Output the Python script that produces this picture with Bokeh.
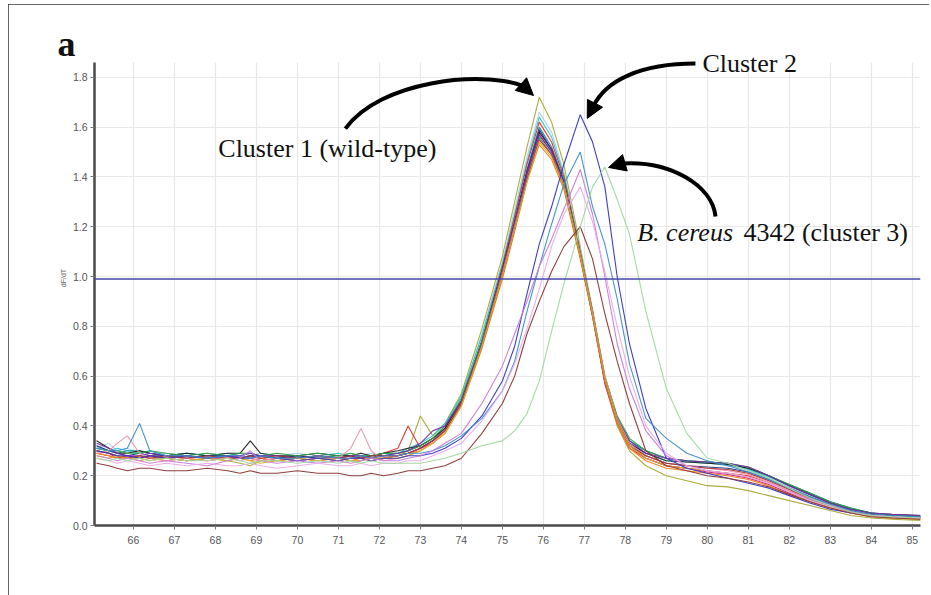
from bokeh.plotting import figure
from bokeh.models import (Range1d, FixedTicker, PrintfTickFormatter, Span, Label,
                          Arrow, NormalHead)
from bokeh.embed import file_html
from bokeh.resources import INLINE

# ---------------- data ----------------
temps = [65.1, 65.4, 65.6, 65.85, 66.15, 66.4, 66.8, 67.3, 67.8, 68.3, 68.6, 68.85, 69.1,
         69.5, 70.0, 70.5, 71.0, 71.3, 71.55, 71.8, 72.1, 72.45, 72.7, 73.0, 73.3, 73.6,
         74.0, 74.5, 75.0, 75.3, 75.6, 75.9, 76.2, 76.5, 76.9, 77.2, 77.5, 77.8, 78.1,
         78.5, 79.0, 79.5, 80.0, 80.5, 81.0, 81.5, 82.0, 82.5, 83.0, 83.5, 84.0, 84.5, 85.2]

x_ticks = list(range(66, 86))
y_ticks = [0.0, 0.2, 0.4, 0.6, 0.8, 1.0, 1.2, 1.4, 1.6, 1.8]
threshold = 0.99

# cluster 1 (wild-type)
c1_olive = [0.30,0.29,0.28,0.27,0.28,0.27,0.27,0.26,0.27,0.26,0.25,0.24,0.26,0.27,0.27,0.26,0.27,0.26,0.26,0.27,0.27,0.28,0.30,
            0.44,0.36,0.41,0.53,0.79,1.08,1.30,1.52,1.72,
            1.62,1.45,1.12,0.86,0.57,0.40,0.30,0.24,
            0.20,0.18,0.16,0.155,0.14,0.12,0.10,0.08,0.06,0.04,0.03,0.025,0.02]
c1_lightblue = [0.31,0.33,0.30,0.31,0.29,0.28,0.29,0.28,0.29,0.28,0.29,0.28,0.29,0.28,0.29,0.28,0.28,0.29,0.28,0.29,0.28,0.29,0.30,
                0.32,0.35,0.40,0.51,0.77,1.06,1.27,1.48,1.66,
                1.58,1.42,1.11,0.87,0.60,0.44,0.34,0.30,
                0.27,0.26,0.25,0.24,0.225,0.19,0.155,0.12,0.09,0.065,0.05,0.04,0.035]
c1_cyan = [0.32,0.30,0.31,0.30,0.29,0.30,0.28,0.29,0.28,0.29,0.28,0.29,0.28,0.28,0.27,0.28,0.29,0.28,0.28,0.28,0.29,0.29,0.31,
           0.33,0.36,0.41,0.52,0.76,1.05,1.25,1.46,1.64,
           1.56,1.41,1.10,0.86,0.59,0.43,0.33,0.29,
           0.26,0.255,0.25,0.245,0.225,0.195,0.16,0.125,0.09,0.065,0.05,0.04,0.035]
c1_red = [0.29,0.28,0.27,0.28,0.27,0.28,0.27,0.28,0.27,0.28,0.27,0.28,0.27,0.26,0.27,0.28,0.27,0.27,0.28,0.27,0.29,0.31,0.40,
          0.31,0.34,0.39,0.50,0.74,1.04,1.24,1.45,1.62,
          1.54,1.40,1.10,0.85,0.58,0.42,0.32,0.27,
          0.24,0.23,0.22,0.21,0.20,0.17,0.135,0.105,0.08,0.055,0.04,0.035,0.03]
c1_teal = [0.31,0.30,0.29,0.30,0.30,0.29,0.28,0.29,0.28,0.28,0.27,0.28,0.28,0.27,0.28,0.27,0.28,0.28,0.27,0.28,0.28,0.29,0.30,
           0.32,0.35,0.39,0.50,0.73,1.02,1.22,1.43,1.60,
           1.52,1.39,1.09,0.85,0.59,0.43,0.34,0.30,
           0.27,0.26,0.255,0.25,0.23,0.20,0.165,0.13,0.095,0.07,0.05,0.04,0.035]
c1_black = [0.34,0.31,0.29,0.29,0.30,0.29,0.28,0.29,0.28,0.29,0.29,0.34,0.29,0.28,0.28,0.29,0.28,0.28,0.29,0.28,0.29,0.30,0.31,
            0.32,0.35,0.39,0.50,0.74,1.03,1.22,1.42,1.58,
            1.51,1.38,1.09,0.86,0.59,0.43,0.33,0.29,
            0.26,0.255,0.25,0.245,0.23,0.20,0.16,0.125,0.09,0.065,0.05,0.045,0.04]
c1_navy = [0.32,0.30,0.29,0.28,0.29,0.28,0.28,0.27,0.28,0.28,0.27,0.28,0.28,0.27,0.28,0.27,0.27,0.28,0.27,0.28,0.28,0.28,0.29,
           0.31,0.34,0.38,0.49,0.72,1.01,1.21,1.42,1.59,
           1.51,1.37,1.08,0.84,0.58,0.42,0.33,0.28,
           0.25,0.24,0.235,0.23,0.215,0.185,0.15,0.115,0.085,0.06,0.045,0.04,0.035]
c1_magenta = [0.30,0.29,0.27,0.28,0.27,0.28,0.27,0.26,0.27,0.27,0.28,0.27,0.26,0.27,0.26,0.27,0.26,0.27,0.27,0.26,0.27,0.28,0.29,
              0.31,0.33,0.38,0.49,0.73,1.02,1.21,1.41,1.57,
              1.50,1.37,1.08,0.84,0.57,0.41,0.31,0.27,
              0.24,0.23,0.215,0.205,0.19,0.165,0.13,0.10,0.075,0.05,0.04,0.035,0.03]
c1_green = [0.31,0.30,0.30,0.29,0.29,0.30,0.29,0.28,0.29,0.28,0.29,0.29,0.28,0.29,0.28,0.29,0.28,0.29,0.28,0.28,0.29,0.29,0.30,
            0.32,0.35,0.40,0.51,0.74,1.02,1.21,1.40,1.56,
            1.49,1.37,1.09,0.86,0.60,0.44,0.35,0.30,
            0.27,0.26,0.255,0.25,0.235,0.20,0.165,0.13,0.095,0.07,0.05,0.04,0.035]
c1_purple = [0.33,0.31,0.29,0.28,0.28,0.29,0.28,0.28,0.27,0.28,0.28,0.29,0.28,0.28,0.27,0.28,0.27,0.28,0.28,0.27,0.28,0.29,0.30,
             0.33,0.38,0.40,0.50,0.73,1.02,1.21,1.41,1.57,
             1.50,1.37,1.08,0.85,0.59,0.43,0.34,0.29,
             0.27,0.26,0.255,0.25,0.235,0.20,0.16,0.125,0.09,0.065,0.05,0.045,0.04]
c1_orange = [0.29,0.28,0.27,0.27,0.26,0.27,0.26,0.27,0.26,0.27,0.27,0.26,0.27,0.26,0.27,0.26,0.27,0.26,0.27,0.27,0.27,0.28,0.29,
             0.30,0.33,0.37,0.48,0.71,0.99,1.18,1.38,1.53,
             1.47,1.35,1.07,0.84,0.58,0.41,0.31,0.26,
             0.23,0.22,0.21,0.20,0.185,0.16,0.125,0.095,0.07,0.05,0.035,0.03,0.025]
c1_salmon = [0.29,0.30,0.33,0.36,0.29,0.27,0.26,0.27,0.26,0.27,0.26,0.27,0.26,0.27,0.26,0.27,0.27,0.31,0.39,0.30,0.26,0.27,0.28,
             0.30,0.33,0.38,0.49,0.72,1.01,1.20,1.39,1.55,
             1.49,1.37,1.09,0.86,0.60,0.43,0.33,0.28,
             0.25,0.24,0.23,0.22,0.205,0.175,0.14,0.11,0.08,0.055,0.04,0.035,0.03]
c1_darkred = [0.30,0.29,0.28,0.27,0.28,0.27,0.28,0.27,0.28,0.27,0.27,0.28,0.27,0.28,0.27,0.28,0.27,0.28,0.27,0.28,0.28,0.28,0.29,
              0.31,0.34,0.38,0.49,0.72,1.00,1.19,1.39,1.55,
              1.49,1.36,1.08,0.85,0.59,0.42,0.32,0.28,
              0.25,0.24,0.23,0.225,0.21,0.18,0.145,0.11,0.08,0.055,0.04,0.035,0.03]
c1_gold = [0.28,0.27,0.28,0.27,0.27,0.26,0.27,0.26,0.27,0.26,0.27,0.26,0.25,0.26,0.27,0.26,0.27,0.26,0.26,0.27,0.27,0.27,0.28,
           0.30,0.33,0.37,0.48,0.72,1.00,1.19,1.38,1.54,
           1.48,1.36,1.08,0.85,0.59,0.42,0.32,0.27,
           0.24,0.23,0.22,0.21,0.195,0.17,0.135,0.10,0.075,0.05,0.035,0.03,0.025]

# cluster 2
c2_blue = [0.30,0.29,0.28,0.28,0.27,0.28,0.27,0.28,0.27,0.28,0.27,0.27,0.28,0.27,0.26,0.27,0.26,0.27,0.27,0.26,0.27,0.27,0.28,
           0.28,0.29,0.31,0.35,0.44,0.58,0.72,0.93,1.13,
           1.28,1.45,1.65,1.54,1.36,1.00,0.73,0.47,
           0.27,0.23,0.21,0.19,0.17,0.15,0.12,0.09,0.065,0.05,0.04,0.035,0.03]
c2_steelblue = [0.31,0.30,0.30,0.31,0.41,0.30,0.28,0.28,0.27,0.28,0.28,0.27,0.28,0.27,0.27,0.28,0.27,0.27,0.28,0.27,0.28,0.28,0.29,
                0.29,0.30,0.32,0.36,0.43,0.54,0.66,0.86,1.04,
                1.21,1.37,1.50,1.28,1.13,0.91,0.65,0.43,
                0.35,0.29,0.26,0.24,0.215,0.185,0.15,0.115,0.085,0.06,0.045,0.04,0.035]
c2_orchid = [0.28,0.27,0.26,0.27,0.26,0.25,0.26,0.25,0.24,0.26,0.27,0.30,0.26,0.25,0.26,0.25,0.26,0.25,0.26,0.27,0.26,0.26,0.27,
             0.28,0.30,0.33,0.37,0.49,0.64,0.77,0.90,1.04,
             1.15,1.27,1.43,1.25,1.00,0.73,0.55,0.38,
             0.28,0.24,0.22,0.21,0.195,0.17,0.135,0.105,0.08,0.055,0.04,0.035,0.03]
c2_plum = [0.27,0.26,0.25,0.26,0.25,0.24,0.25,0.24,0.25,0.24,0.24,0.25,0.24,0.23,0.24,0.25,0.24,0.24,0.25,0.24,0.25,0.25,0.26,
           0.26,0.28,0.30,0.33,0.42,0.54,0.65,0.79,0.95,
           1.12,1.25,1.36,1.22,1.02,0.80,0.60,0.40,
           0.29,0.24,0.22,0.21,0.195,0.17,0.135,0.10,0.075,0.05,0.04,0.035,0.03]
c2_brown = [0.25,0.24,0.23,0.22,0.23,0.23,0.22,0.22,0.23,0.22,0.21,0.22,0.21,0.21,0.22,0.21,0.21,0.20,0.20,0.21,0.20,0.21,0.22,
            0.22,0.23,0.24,0.27,0.37,0.49,0.60,0.77,0.90,
            1.02,1.12,1.20,1.07,0.85,0.66,0.49,0.30,
            0.24,0.22,0.20,0.19,0.175,0.155,0.125,0.095,0.07,0.05,0.035,0.03,0.025]

# cluster 3 (B. cereus 4342)
c3_green = [0.27,0.26,0.27,0.26,0.27,0.26,0.27,0.26,0.26,0.27,0.26,0.25,0.26,0.26,0.25,0.26,0.25,0.26,0.25,0.26,0.25,0.25,0.25,
            0.25,0.26,0.27,0.29,0.32,0.34,0.38,0.45,0.58,
            0.78,0.97,1.20,1.36,1.44,1.31,1.17,0.86,
            0.55,0.37,0.27,0.25,0.22,0.19,0.15,0.11,0.08,0.055,0.04,0.035,0.03]

series = [c1_olive, c1_lightblue, c1_cyan, c1_red, c1_teal, c1_black, c1_navy, c1_magenta,
          c1_green, c1_purple, c1_orange, c1_salmon, c1_darkred, c1_gold,
          c2_blue, c2_steelblue, c2_orchid, c2_plum, c2_brown, c3_green]

# ---------------- styles ----------------
colors = ["#a8a830", "#a6d2ea", "#2cc4cc", "#e02c2c", "#168a8a", "#1e1e1e", "#2a3484", "#d01c84",
          "#2aa040", "#7a2cae", "#f08018", "#f094a8", "#a83030", "#d8b020",
          "#3434c0", "#3e8ecc", "#c87ad8", "#eaaaea", "#8c3434", "#9ed89e"]

axis_top = 1.86   # where the drawn axis / grid stops
p = figure(width=921, height=591, output_backend="svg", toolbar_location=None,
           x_range=Range1d(65.05, 85.2), y_range=Range1d(0.0, 1.988),
           min_border_left=86, min_border_right=9, min_border_top=26, min_border_bottom=70)
p.outline_line_color = None
p.background_fill_color = "white"
p.border_fill_color = "white"
p.styles = {"outline": "2px solid #333333", "outline-offset": "-2px",
            "margin-left": "8px", "margin-top": "4px"}

p.xgrid.grid_line_color = "#e8e8e8"
p.ygrid.grid_line_color = "#e8e8e8"
p.xgrid.grid_line_width = 1.2
p.ygrid.grid_line_width = 1.2
xg = p.xgrid[0]
if "cross_bounds" in xg.properties():
    xg.cross_bounds = (0, axis_top)
else:
    xg.visible = False
    p.segment(x0=x_ticks, y0=[0] * len(x_ticks), x1=x_ticks, y1=[axis_top] * len(x_ticks),
              line_color="#e8e8e8", line_width=1.2, level="underlay")

p.xaxis.ticker = FixedTicker(ticks=x_ticks)
p.yaxis.ticker = FixedTicker(ticks=y_ticks)
p.yaxis.bounds = (0, axis_top)
p.yaxis.formatter = PrintfTickFormatter(format="%.1f")
for ax in (p.xaxis[0], p.yaxis[0]):
    ax.axis_line_color = "#4a4a4a"
    ax.axis_line_width = 2.5
    ax.major_tick_line_color = "#777777"
    ax.major_tick_out = 4
    ax.major_tick_in = 0
    ax.minor_tick_line_color = None
    ax.major_label_text_font = "Liberation Sans"
    ax.major_label_text_font_size = "10.5px"
    ax.major_label_text_color = "#555555"
p.xaxis.major_label_standoff = 6
p.yaxis.major_label_standoff = 3
p.yaxis.axis_label = "dF/dT"
p.yaxis.axis_label_text_font = "Liberation Sans"
p.yaxis.axis_label_text_font_size = "7px"
p.yaxis.axis_label_text_font_style = "normal"
p.yaxis.axis_label_text_color = "#666666"
p.yaxis.axis_label_standoff = 3

for vals, col in zip(series, colors):
    p.line(temps, vals, line_color=col, line_width=1.1, line_alpha=0.95)

p.add_layout(Span(location=threshold, dimension="width", line_color="#4646a8", line_width=1.6))

# ---------------- annotations ----------------
serif = "Liberation Serif"
p.title.text = "a"
p.title.text_font = serif
p.title.text_font_size = "36px"
p.title.text_font_style = "bold"
p.title.text_color = "#111111"
p.title.align = "left"
p.title.offset = -37
p.title.standoff = -66

p.add_layout(Label(x=68.07, y=1.514, text="Cluster 1 (wild-type)", text_font=serif,
                   text_font_size="26px", text_baseline="middle", text_color="#111111"))
p.add_layout(Label(x=79.88, y=1.855, text="Cluster 2", text_font=serif,
                   text_font_size="26px", text_baseline="middle", text_color="#111111"))
p.add_layout(Label(x=78.29, y=1.177, text="B. cereus", text_font=serif, text_font_style="italic",
                   text_font_size="26px", text_baseline="middle", text_color="#111111"))
p.add_layout(Label(x=80.88, y=1.177, text="4342 (cluster 3)", text_font=serif,
                   text_font_size="26px", text_baseline="middle", text_color="#111111"))

# curved arrows: start, control 1, control 2, end, tip
arrows = [
    ((71.17, 1.594), (72.02, 1.787), (74.46, 1.827), (75.49, 1.767), (75.76, 1.727)),
    ((79.71, 1.855), (78.37, 1.855), (77.51, 1.787), (77.22, 1.683), (77.07, 1.635)),
    ((80.20, 1.241), (80.12, 1.365), (79.10, 1.466), (77.93, 1.454), (77.59, 1.438)),
]
for s, c0, c1, e, tip in arrows:
    p.bezier(x0=[s[0]], y0=[s[1]], x1=[e[0]], y1=[e[1]], cx0=[c0[0]], cy0=[c0[1]],
             cx1=[c1[0]], cy1=[c1[1]], line_color="#000000", line_width=4)
    p.add_layout(Arrow(end=NormalHead(size=17, fill_color="#000000", line_color="#000000"),
                       x_start=e[0], y_start=e[1], x_end=tip[0], y_end=tip[1],
                       line_color="#000000", line_width=4))

open("out.html", "w").write(file_html(p, INLINE))
